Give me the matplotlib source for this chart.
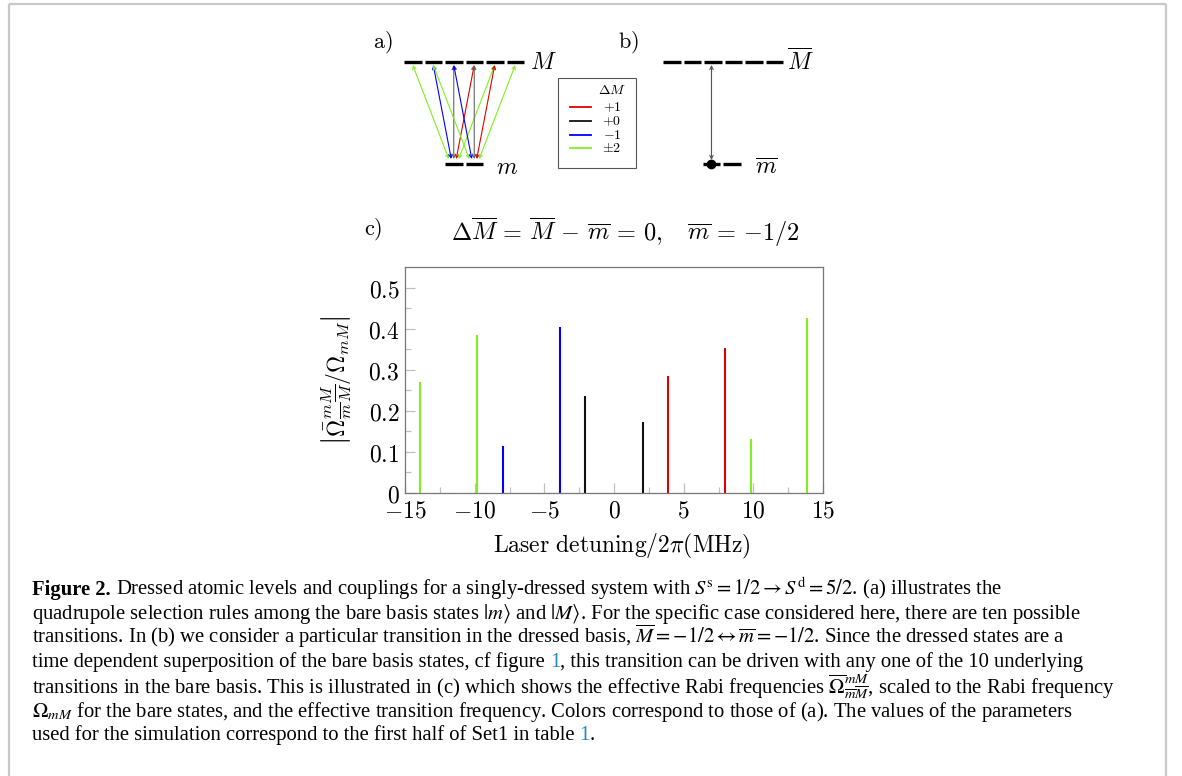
import matplotlib
matplotlib.use("Agg")
import matplotlib.pyplot as plt
import numpy as np

# ---------------- data ----------------
detuning = [-13.9, -9.85, -8.0, -3.9, -2.05, 2.05, 3.9, 8.0, 9.8, 13.85]
rabi_ratio = [0.270, 0.384, 0.115, 0.404, 0.235, 0.172, 0.285, 0.352, 0.132, 0.426]
delta_M = ['pm2', 'pm2', '-1', '-1', '0', '0', '+1', '+1', 'pm2', 'pm2']
xticks = [-15, -10, -5, 0, 5, 10, 15]
yticks = [0, 0.1, 0.2, 0.3, 0.4, 0.5]
ytick_labels = ['0', '0.1', '0.2', '0.3', '0.4', '0.5']
M_levels = [-2.5, -1.5, -0.5, 0.5, 1.5, 2.5]
m_levels = [-0.5, 0.5]
legend_keys = ['+1', '0', '-1', 'pm2']
legend_labels = [r'$+1$', r'$+0$', r'$-1$', r'$\pm2$']

colors = {'+1': '#e00000', '0': '#111111', '-1': '#0000ff', 'pm2': '#80f020'}
arrow_colors = {'+1': '#e00000', '0': '#666666', '-1': '#0000ff', 'pm2': '#80f020'}

plt.rcParams['mathtext.fontset'] = 'cm'

W, H = 1182, 776
fig = plt.figure(figsize=(W / 100, H / 100), dpi=100)
fig.patch.set_facecolor('white')

ov = fig.add_axes([0, 0, 1, 1])
ov.set_xlim(0, W)
ov.set_ylim(H, 0)
ov.axis('off')

# border frame (top, left, right)
bc = '#c8c8c8'
ov.plot([8.5, 8.5], [H, 3.5], color=bc, lw=1.6, solid_capstyle='butt')
ov.plot([8.5, 1165.5], [3.5, 3.5], color=bc, lw=1.6, solid_capstyle='butt')
ov.plot([1165.5, 1165.5], [3.5, H], color=bc, lw=1.6, solid_capstyle='butt')

# ---------------- panel a ----------------
ov.text(383, 42, r'$\mathrm{a)}$', fontsize=16, ha='center', va='center')
yM, ym = 62, 164
dash_w, dash_pitch = 17.5, 20.5
x0M = 404
M_cent = {}
for i, Mv in enumerate(M_levels):
    xs = x0M + i * dash_pitch
    ov.plot([xs, xs + dash_w], [yM, yM], color='black', lw=2.4, solid_capstyle='butt')
    M_cent[Mv] = xs + dash_w / 2
ov.text(530, yM, r'$M$', fontsize=17, ha='left', va='center')
x0m = 445
m_cent = {}
for i, mv in enumerate(m_levels):
    xs = x0m + i * dash_pitch
    ov.plot([xs, xs + dash_w], [ym, ym], color='black', lw=2.4, solid_capstyle='butt')
    m_cent[mv] = xs + dash_w / 2
ov.text(496, 167, r'$m$', fontsize=17, ha='left', va='center')

def key_of(d):
    if d == 1:
        return '+1'
    if d == 0:
        return '0'
    if d == -1:
        return '-1'
    return 'pm2'

for mv in m_levels:
    for Mv in M_levels:
        d = int(round(Mv - mv))
        if abs(d) > 2:
            continue
        mc, Mc = m_cent[mv], M_cent[Mv]
        xs = mc + 0.12 * (Mc - mc)
        ov.annotate('', xy=(Mc, yM + 3), xytext=(xs, ym - 5),
                    arrowprops=dict(arrowstyle='<->', color=arrow_colors[key_of(d)],
                                    lw=0.8, shrinkA=0, shrinkB=0, mutation_scale=6))

# legend box
ov.add_patch(plt.Rectangle((557.5, 77.5), 78, 90, fill=False, ec='#555555', lw=0.8))
ov.text(612, 90, r'$\Delta M$', fontsize=10, ha='center', va='center')
for j, (k, lab) in enumerate(zip(legend_keys, legend_labels)):
    yy = 107 + j * 13.8
    ov.plot([570, 591], [yy, yy], color=colors[k], lw=1.3)
    ov.text(612, yy, lab, fontsize=10, ha='center', va='center')

# ---------------- panel b ----------------
ov.text(628, 42, r'$\mathrm{b)}$', fontsize=16, ha='center', va='center')
x0b = 663
for i in range(6):
    xs = x0b + i * dash_pitch
    ov.plot([xs, xs + dash_w], [yM, yM], color='black', lw=2.4, solid_capstyle='butt')
ov.text(787, yM, r'$\overline{M}$', fontsize=17, ha='left', va='center')
ov.plot([703, 720], [ym, ym], color='black', lw=2.4, solid_capstyle='butt')
ov.plot([723, 741], [ym, ym], color='black', lw=2.4, solid_capstyle='butt')
ov.plot([711], [ym], 'o', color='black', ms=6)
ov.annotate('', xy=(711.5, yM + 3), xytext=(711.5, ym - 4),
            arrowprops=dict(arrowstyle='<->', color='#555555', lw=0.8,
                            shrinkA=0, shrinkB=0, mutation_scale=6))
ov.text(755, 167, r'$\overline{m}$', fontsize=17, ha='left', va='center')

# ---------------- panel c ----------------
ov.text(373, 229, r'$\mathrm{c)}$', fontsize=16, ha='center', va='center')
ov.text(625, 232, r'$\Delta\overline{M}\,=\,\overline{M}\,-\,\overline{m}\,=\,0,\quad\overline{m}\,=\,{-1/2}$',
        fontsize=17.5, ha='center', va='center')

L, R, T, B = 405, 823, 267, 493
ax = fig.add_axes([L / W, 1 - B / H, (R - L) / W, (B - T) / H])
ax.vlines(detuning, 0, rabi_ratio, colors=[colors[k] for k in delta_M], lw=1.5)
ax.set_xlim(-15, 15)
ax.set_ylim(0, 0.55)
ax.set_xticks(xticks)
ax.set_xticklabels([rf'${v}$' for v in xticks])
ax.set_yticks(yticks)
ax.set_yticklabels([rf'${v}$' for v in ytick_labels])
ax.set_xticks(np.arange(-12.5, 15, 5), minor=True)
ax.set_yticks(np.arange(0.05, 0.55, 0.1), minor=True)
ax.tick_params(which='both', direction='in', color='#c0c0c0', width=0.9,
               labelsize=17, top=False, right=False)
ax.tick_params(which='major', length=7, pad=4)
ax.tick_params(which='minor', length=4.5)
for s in ax.spines.values():
    s.set_color('#777777')
    s.set_linewidth(0.9)
ax.set_xlabel(r'$\mathrm{Laser\ detuning}/2\pi(\mathrm{MHz})$', fontsize=17)
ax.xaxis.set_label_coords((622 - L) / (R - L), -(546 - B) / (B - T), transform=ax.transAxes)
ax.xaxis.label.set_va('center')
ax.set_ylabel(r'$\left|\bar{\Omega}^{mM}_{\overline{m}\,\overline{M}}/\Omega_{mM}\right|$',
              fontsize=17)
ax.yaxis.set_label_coords(-(L - 337) / (R - L), (B - 380) / (B - T), transform=ax.transAxes)
ax.yaxis.label.set_va('center')

# ---------------- caption ----------------
renderer = fig.canvas.get_renderer()
cap_font = dict(family='Liberation Serif', fontsize=14.9, math_fontfamily='stix')

def wid(s, **kw):
    t = ov.text(0, 0, s, **kw)
    w = t.get_window_extent(renderer).width
    t.remove()
    return w

space_w = wid('x x', **cap_font) - wid('xx', **cap_font)

def cap_line(y, segs, x=32):
    for s, col, wt in segs:
        trail = s.endswith(' ')
        s2 = s.rstrip(' ')
        t = ov.text(x, y, s2, color=col, fontweight=wt, ha='left', va='baseline', **cap_font)
        x += t.get_window_extent(renderer).width
        if trail:
            x += space_w

link = '#1f8ac0'
k = 'black'
cap_line(595, [('Figure 2. ', k, 'bold'),
               (r'Dressed atomic levels and couplings for a singly-dressed system with '
                r'$S^{\mathrm{s}}=1/2\rightarrow S^{\mathrm{d}}=5/2$. (a) illustrates the', k, 'normal')])
cap_line(619, [(r'quadrupole selection rules among the bare basis states $|m\rangle$ and $|M\rangle$. '
                r'For the specific case considered here, there are ten possible', k, 'normal')])
cap_line(643, [(r'transitions. In (b) we consider a particular transition in the dressed basis, '
                r'$\overline{M}=-1/2\leftrightarrow\overline{m}=-1/2$. Since the dressed states are a', k, 'normal')])
cap_line(667, [('time dependent superposition of the bare basis states, cf figure ', k, 'normal'),
               ('1', link, 'normal'),
               (', this transition can be driven with any one of the 10 underlying', k, 'normal')])
cap_line(694, [(r'transitions in the bare basis. This is illustrated in (c) which shows the effective Rabi frequencies '
                r'$\overline{\Omega}^{mM}_{\overline{m}\overline{M}}$, scaled to the Rabi frequency', k, 'normal')])
cap_line(717, [(r'$\Omega_{mM}$ for the bare states, and the effective transition frequency. '
                r'Colors correspond to those of (a). The values of the parameters', k, 'normal')])
cap_line(740, [('used for the simulation correspond to the first half of Set1 in table ', k, 'normal'),
               ('1', link, 'normal'), ('.', k, 'normal')])

fig.savefig('out.png', dpi=100, facecolor='white')
